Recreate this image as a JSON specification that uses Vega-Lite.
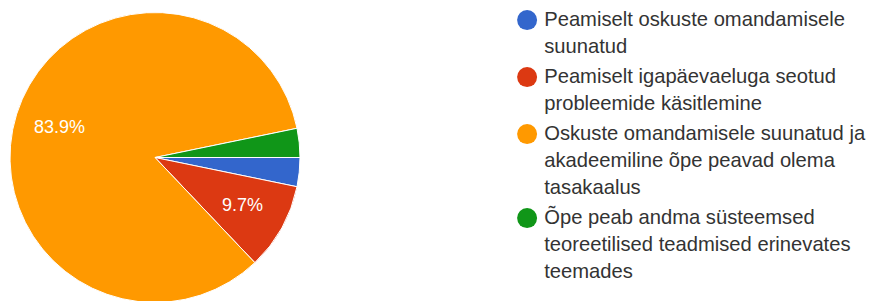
{
  "$schema": "https://vega.github.io/schema/vega-lite/v6.json",
  "width": 310,
  "height": 315,
  "padding": 0,
  "autosize": {"type": "pad"},
  "background": "white",
  "view": {"stroke": null},
  "data": {
    "values": [
      {"answer": "Peamiselt oskuste omandamisele suunatud", "pct": 0.0323, "k": 1},
      {"answer": "Peamiselt igapäevaeluga seotud probleemide käsitlemine", "pct": 0.0968, "k": 2},
      {"answer": "Oskuste omandamisele suunatud ja akadeemiline õpe peavad olema tasakaalus", "pct": 0.8387, "k": 3},
      {"answer": "Õpe peab andma süsteemsed teoreetilised teadmised erinevates teemades", "pct": 0.0323, "k": 4}
    ]
  },
  "encoding": {
    "theta": {"field": "pct", "type": "quantitative", "stack": true, "scale": {"range": [1.5708, 7.854]}},
    "order": {"field": "k", "type": "quantitative"}
  },
  "layer": [
    {
      "mark": {"type": "arc", "outerRadius": 145, "stroke": "white", "strokeWidth": 1},
      "encoding": {
        "color": {
          "field": "answer",
          "type": "nominal",
          "sort": null,
          "scale": {
            "domain": [
              "Peamiselt oskuste omandamisele suunatud",
              "Peamiselt igapäevaeluga seotud probleemide käsitlemine",
              "Oskuste omandamisele suunatud ja akadeemiline õpe peavad olema tasakaalus",
              "Õpe peab andma süsteemsed teoreetilised teadmised erinevates teemades"
            ],
            "range": ["#3366cc", "#dc3912", "#ff9900", "#109618"]
          },
          "legend": {
            "title": null,
            "orient": "none",
            "legendX": 517,
            "legendY": 10,
            "padding": 0,
            "symbolType": "circle",
            "symbolSize": 400,
            "symbolStrokeWidth": 0,
            "labelOffset": 7,
            "labelFont": "Liberation Sans",
            "labelFontSize": 20.2,
            "labelColor": "#333333",
            "labelLimit": 400,
            "rowPadding": 9,
            "labelExpr": "datum.label == 'Peamiselt oskuste omandamisele suunatud' ? ['Peamiselt oskuste omandamisele', 'suunatud'] : datum.label == 'Peamiselt igapäevaeluga seotud probleemide käsitlemine' ? ['Peamiselt igapäevaeluga seotud', 'probleemide käsitlemine'] : datum.label == 'Oskuste omandamisele suunatud ja akadeemiline õpe peavad olema tasakaalus' ? ['Oskuste omandamisele suunatud ja', 'akadeemiline õpe peavad olema', 'tasakaalus'] : ['Õpe peab andma süsteemsed', 'teoreetilised teadmised erinevates', 'teemades']"
          }
        }
      }
    },
    {
      "mark": {"type": "text", "radius": 100, "font": "Liberation Sans", "fontSize": 18, "fill": "white"},
      "encoding": {
        "text": {
          "condition": {"test": "datum.pct > 0.05", "field": "pct", "type": "quantitative", "format": ".1%"},
          "value": ""
        }
      }
    }
  ],
  "config": {
    "style": {"guide-label": {"lineHeight": 27}}
  }
}
